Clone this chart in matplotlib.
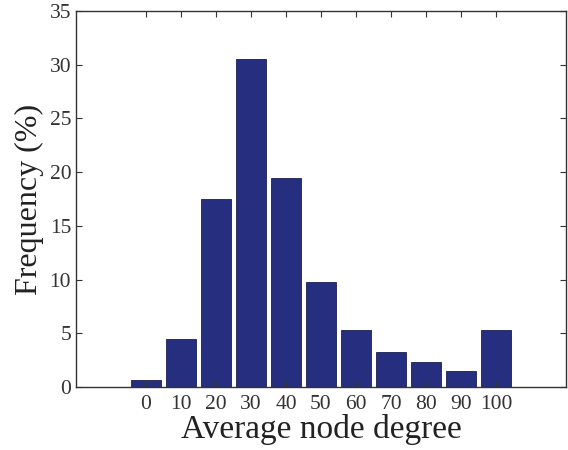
import matplotlib
matplotlib.use("Agg")
import matplotlib.pyplot as plt

categories = [0, 10, 20, 30, 40, 50, 60, 70, 80, 90, 100]
frequency = [0.65, 4.5, 17.5, 30.5, 19.5, 9.8, 5.35, 3.25, 2.3, 1.45, 5.35]

plt.rcParams['font.family'] = ['Liberation Serif', 'DejaVu Serif']

fig = plt.figure(figsize=(5.68, 4.5), dpi=100)
ax = fig.add_axes([76/568, 1-387/450, (566-76)/568, (387-11)/450])

ax.bar(categories, frequency, width=8.3, color='#262e80', edgecolor='#1a1f50', linewidth=0.6)

ax.set_xlim(-20, 120)
ax.set_ylim(0, 35)
ax.set_xticks(categories)
ax.set_yticks(range(0, 36, 5))
ax.tick_params(direction='in', top=True, right=True, labelsize=15.5, length=4, colors='#333333', labelcolor='#333333')
ax.tick_params(axis='x', pad=6)
for s in ax.spines.values():
    s.set_color('#333333')
    s.set_linewidth(1.0)

ax.set_xlabel('Average node degree', fontsize=24, color='#222222', labelpad=0)
ax.set_ylabel('Frequency (%)', fontsize=23, color='#222222', labelpad=4)

fig.savefig('out.png', dpi=100)
